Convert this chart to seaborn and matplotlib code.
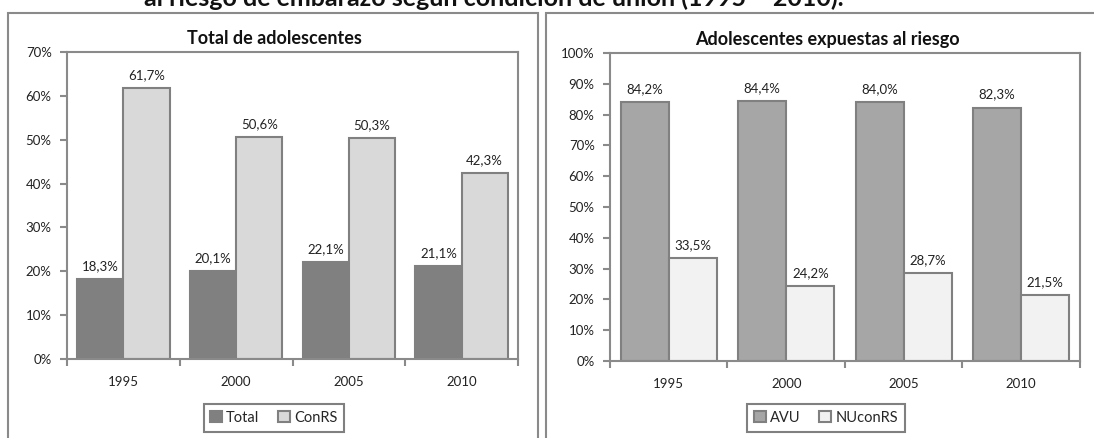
import pandas as pd
import seaborn as sns
import matplotlib.pyplot as plt
from matplotlib.patches import Rectangle
from matplotlib.ticker import FixedLocator

# ==========================================
# DATA
# ==========================================
YEARS = ["1995", "2000", "2005", "2010"]

TOTAL = [18.3, 20.1, 22.1, 21.1]
CONRS = [61.7, 50.6, 50.3, 42.3]

AVU = [84.2, 84.4, 84.0, 82.3]
NUCONRS = [33.5, 24.2, 28.7, 21.5]

LEFT_TITLE = "Total de adolescentes"
RIGHT_TITLE = "Adolescentes expuestas al riesgo"
MAIN_TITLE = "al riesgo de embarazo según condición de unión (1995 – 2010)."

EDGE = "#808080"
FRAME = "#8a8a8a"

# ==========================================

sns.set_theme(style="white")
plt.rcParams["font.family"] = ["Lato", "DejaVu Sans"]

W, H = 1094, 438


def long_df(a_name, a_vals, b_name, b_vals):
    rows = []
    for name, vals in [(a_name, a_vals), (b_name, b_vals)]:
        for y, v in zip(YEARS, vals):
            rows.append({"year": y, "value": v, "serie": name})
    return pd.DataFrame(rows)


def draw_panel(ax, df, colors, ymax, title, title_x, legend_x):
    sns.barplot(data=df, x="year", y="value", hue="serie", palette=colors,
                saturation=1, width=0.82, edgecolor=EDGE, linewidth=1.5,
                ax=ax)

    for cont in ax.containers:
        labels = [f"{b.get_height():.1f}%".replace(".", ",") for b in cont]
        ax.bar_label(cont, labels=labels, padding=5, fontsize=9.5,
                     color="#222222")

    ax.set_xlim(-0.5, 3.5)
    ax.set_ylim(0, ymax)
    ticks = list(range(0, ymax + 1, 10))
    ax.set_yticks(ticks)
    ax.set_yticklabels([f"{t}%" for t in ticks], fontsize=9.5, color="#222222")
    ax.set_xticks(range(len(YEARS)))
    ax.set_xticklabels(YEARS, fontsize=9.5, color="#222222")
    ax.xaxis.set_minor_locator(FixedLocator([-0.5, 0.5, 1.5, 2.5, 3.5]))
    ax.tick_params(axis="x", which="major", length=0, pad=12)
    ax.tick_params(axis="x", which="minor", length=5, width=1.5,
                   color=FRAME, direction="out", bottom=True)
    ax.tick_params(axis="y", length=5, width=1.5, color=FRAME,
                   direction="out", left=True, pad=6)
    ax.set_xlabel("")
    ax.set_ylabel("")
    for sp in ax.spines.values():
        sp.set_visible(True)
        sp.set_color(FRAME)
        sp.set_linewidth(1.5)

    handles, labels = ax.get_legend_handles_labels()
    ax.get_legend().remove()
    fig.legend(handles, labels, loc="center", bbox_to_anchor=(legend_x, 0.0457),
               ncol=2, fontsize=10.5, frameon=True, fancybox=False,
               edgecolor=EDGE, handlelength=0.8, handleheight=0.8,
               handletextpad=0.3, columnspacing=1.3, borderpad=0.45,
               framealpha=1).get_frame().set_linewidth(1.5)

    fig.text(title_x, 1 - 39 / H, title, ha="center", va="center",
             fontsize=13, fontweight="bold", color="#111111")


fig = plt.figure(figsize=(W / 100, H / 100), dpi=100)

# chart area boxes
fig.patches.append(Rectangle((8 / W, -0.05), 530 / W, 1.05 - 13 / H,
                             transform=fig.transFigure, fill=False,
                             edgecolor=FRAME, linewidth=1.5))
fig.patches.append(Rectangle((546 / W, -0.05), 562 / W, 1.05 - 13 / H,
                             transform=fig.transFigure, fill=False,
                             edgecolor=FRAME, linewidth=1.5))

ax1 = fig.add_axes([67 / W, (H - 359) / H, 451 / W, 307 / H])
ax2 = fig.add_axes([610 / W, (H - 361) / H, 470 / W, 308 / H])

df_left = long_df("Total", TOTAL, "ConRS", CONRS)
df_right = long_df("AVU", AVU, "NUconRS", NUCONRS)

draw_panel(ax1, df_left, ["#808080", "#d9d9d9"], 70, LEFT_TITLE,
           274 / W, 274 / W)
draw_panel(ax2, df_right, ["#a6a6a6", "#f2f2f2"], 100, RIGHT_TITLE,
           827 / W, 826 / W)

fig.text(494 / W, 1 - 6 / H, MAIN_TITLE, ha="center", va="baseline",
         fontsize=18, fontweight="bold", color="#111111")

fig.savefig("out.png", dpi=100)
